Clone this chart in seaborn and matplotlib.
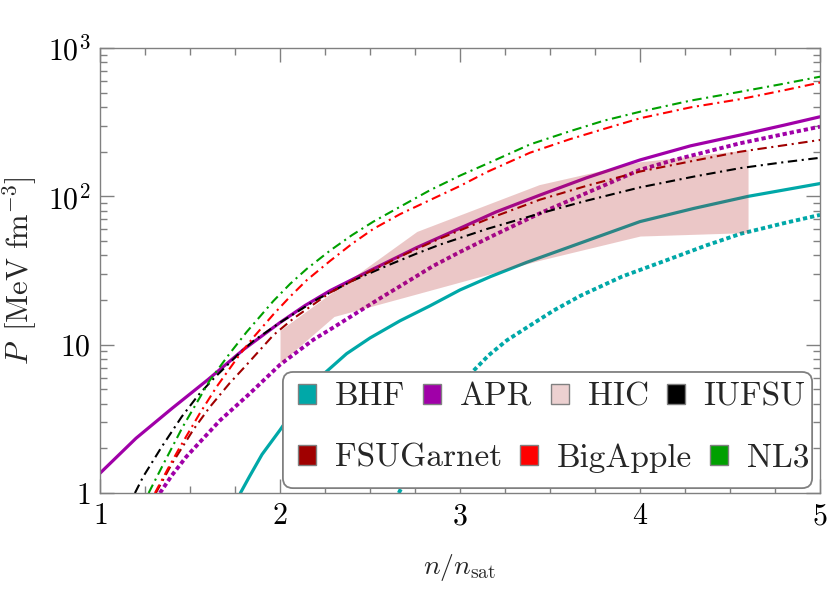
import matplotlib
matplotlib.use('Agg')
import matplotlib.pyplot as plt
import seaborn as sns
from matplotlib.patches import Patch, FancyBboxPatch
from matplotlib.ticker import FixedLocator, MultipleLocator, FuncFormatter, LogLocator, NullFormatter

# curves (n/n_sat, P in MeV fm^-3)
bhf_x = [1.78, 1.83, 1.9, 2.0, 2.1, 2.22, 2.37, 2.5, 2.667, 2.83, 3.0, 3.17, 3.37, 3.7, 4.0, 4.3, 4.6, 5.0]
bhf_y = [1.0, 1.29, 1.82, 2.66, 3.98, 6.0, 8.7, 11.1, 14.5, 18.2, 23.4, 28.8, 35.9, 50, 67.6, 83, 100, 122]

bhf2_x = [2.66, 2.71, 2.78, 2.87, 2.96, 3.06, 3.16, 3.26, 3.39, 3.52, 3.67, 3.9, 4.17, 4.37, 4.56, 4.8, 5.0]
bhf2_y = [1.0, 1.32, 1.9, 2.82, 4.17, 6.4, 8.5, 10.7, 13.5, 17, 21.4, 28.8, 38, 46.8, 56, 66, 75]

apr_x = [1.0, 1.2, 1.4, 1.6, 1.8, 2.0, 2.14, 2.28, 2.5, 2.76, 3.0, 3.2, 3.444, 3.7, 4.0, 4.28, 4.556, 4.8, 5.0]
apr_y = [1.36, 2.34, 3.72, 5.82, 9.33, 14.1, 18.4, 23.2, 31.6, 45.2, 61, 78.5, 102, 133, 176, 219, 259, 302, 344]

apr2_x = [1.333, 1.4, 1.48, 1.667, 1.833, 2.0, 2.185, 2.28, 2.56, 2.667, 2.85, 3.0, 3.2, 3.444, 3.7, 4.0,
          4.19, 4.556, 4.8, 5.0]
apr2_y = [1.0, 1.32, 1.76, 3.09, 4.7, 7.33, 10.8, 12.7, 20.7, 24.8, 33.9, 42.2, 55.6, 76.9, 105, 151,
          176, 228, 263, 295]

hic_x = [2.0, 2.3, 2.76, 3.44, 4.0, 4.6]
hic_lo = [7.5, 15.5, 22, 37, 54, 57]
hic_hi = [12.5, 23, 58, 120, 171, 206]

iufsu_x = [1.194, 1.24, 1.343, 1.454, 1.546, 1.63, 1.78, 1.852, 2.0, 2.2, 2.4, 2.6, 2.76, 2.889, 3.15,
           3.444, 3.7, 4.0, 4.3, 4.556, 4.8, 5.0]
iufsu_y = [1.0, 1.29, 2.05, 3.27, 4.57, 5.89, 8.9, 10.6, 14.1, 20, 26.9, 34.3, 41.2, 47.3, 60.3,
           76.7, 93.3, 115, 136, 155, 170, 182]

fsug_x = [1.31, 1.4, 1.52, 1.61, 1.72, 1.8, 1.963, 2.074, 2.28, 2.5, 2.7, 2.889, 3.15, 3.444, 3.7, 4.0,
          4.3, 4.556, 4.8, 5.0]
fsug_y = [1.0, 1.58, 2.69, 3.8, 5.5, 7.0, 11.6, 15.0, 22.5, 31.2, 41, 52, 70, 95, 117.5, 147,
          174, 200, 221, 240]

bigapple_x = [1.305, 1.38, 1.444, 1.556, 1.65, 1.78, 1.852, 1.963, 2.056, 2.148, 2.278, 2.4, 2.518, 2.667,
              2.833, 3.0, 3.15, 3.389, 3.611, 3.8, 4.0, 4.28, 4.556, 4.8, 5.0]
bigapple_y = [1.0, 1.48, 2.04, 3.47, 5.25, 8.71, 11.2, 16.0, 21.1, 27.2, 36.7, 47.9, 60.3, 75.9,
              94.4, 117.5, 146, 197, 243, 285, 336, 398, 452, 519, 585]

nl3_x = [1.27, 1.35, 1.46, 1.61, 1.72, 1.815, 1.963, 2.056, 2.148, 2.278, 2.4, 2.518, 2.667, 2.833,
         3.0, 3.15, 3.389, 3.611, 3.8, 4.0, 4.28, 4.556, 4.8, 5.0]
nl3_y = [1.0, 1.55, 2.8, 5.75, 8.71, 12.2, 19.7, 25.7, 32.4, 43.1, 54.8, 67.5, 85.1, 110,
         138, 166, 224, 275, 324, 372, 442, 507, 575, 641]

c_bhf = '#00a8a8'
c_apr = '#a000a8'
c_hic = '#b22222'
c_fsug = '#a00000'
c_big = '#ff0000'
c_nl3 = '#00a000'
grey = '#808080'

sns.set_style('ticks')
plt.rcParams['font.family'] = ['cmr10', 'DejaVu Serif']
plt.rcParams['mathtext.fontset'] = 'cm'
plt.rcParams['axes.unicode_minus'] = False
plt.rcParams['axes.formatter.use_mathtext'] = True

fig, ax = plt.subplots(figsize=(8.3, 5.93), dpi=100)
fig.subplots_adjust(left=0.1205, right=0.988, top=0.919, bottom=0.1686)

dotted = (0, (1.1, 0.75))
dashdot = (0, (4.5, 2.2, 1, 2.2))

sns.lineplot(x=bhf_x, y=bhf_y, ax=ax, color=c_bhf, lw=2.3)
sns.lineplot(x=bhf2_x, y=bhf2_y, ax=ax, color=c_bhf, lw=2.8, linestyle=dotted)
sns.lineplot(x=apr_x, y=apr_y, ax=ax, color=c_apr, lw=2.3)
sns.lineplot(x=apr2_x, y=apr2_y, ax=ax, color=c_apr, lw=2.8, linestyle=dotted)

ax.fill_between(hic_x, hic_lo, hic_hi, color=c_hic, alpha=0.25, lw=0, zorder=3)

sns.lineplot(x=iufsu_x, y=iufsu_y, ax=ax, color='black', lw=1.5, linestyle=dashdot, zorder=4)
sns.lineplot(x=fsug_x, y=fsug_y, ax=ax, color=c_fsug, lw=1.5, linestyle=dashdot, zorder=4)
sns.lineplot(x=bigapple_x, y=bigapple_y, ax=ax, color=c_big, lw=1.5, linestyle=dashdot, zorder=4)
sns.lineplot(x=nl3_x, y=nl3_y, ax=ax, color=c_nl3, lw=1.5, linestyle=dashdot, zorder=4)

ax.set_yscale('log')
ax.set_xlim(1, 5)
ax.set_ylim(1, 1000)

ax.xaxis.set_major_locator(MultipleLocator(1))
ax.xaxis.set_minor_locator(MultipleLocator(0.25))
ax.xaxis.set_major_formatter(FuncFormatter(lambda v, p: r'$%d$' % round(v)))
ax.yaxis.set_major_locator(FixedLocator([1, 10, 100, 1000]))
ax.yaxis.set_minor_locator(LogLocator(base=10, subs=range(2, 10)))
ax.yaxis.set_minor_formatter(NullFormatter())
ylabs = {1: r'$1$', 10: r'$10$', 100: r'$10^2$', 1000: r'$10^3$'}
ax.yaxis.set_major_formatter(FuncFormatter(lambda v, p: ylabs.get(int(round(v)), '')))

for s in ax.spines.values():
    s.set_color(grey)
    s.set_linewidth(1.0)
ax.tick_params(which='both', direction='in', top=True, right=True, color=grey, width=1.0,
               labelsize=21.5, labelcolor='black')
ax.tick_params(which='major', length=10, pad=7)
ax.tick_params(which='minor', length=5)

ax.set_xlabel(r'$n/n_{\mathrm{sat}}$', fontsize=20, labelpad=16)
ax.set_ylabel(r'$P\;\;[\mathrm{MeV\ fm}^{-3}]$', fontsize=22, labelpad=6)

# legend: rounded frame with two independent rows
frame = FancyBboxPatch((0.254, 0.011), 0.735, 0.261, transform=ax.transAxes,
                       boxstyle='round,pad=0,rounding_size=0.014', mutation_aspect=720 / 445,
                       facecolor='white', edgecolor=grey, lw=1.3, zorder=9, clip_on=False)
ax.add_patch(frame)

row1 = [
    Patch(facecolor=c_bhf, edgecolor=grey, label='BHF'),
    Patch(facecolor=c_apr, edgecolor=grey, label='APR'),
    Patch(facecolor='#ecd0d0', edgecolor=grey, label='HIC'),
    Patch(facecolor='black', edgecolor=grey, label='IUFSU'),
]
row2 = [
    Patch(facecolor=c_fsug, edgecolor=grey, label='FSUGarnet'),
    Patch(facecolor=c_big, edgecolor=grey, label='BigApple'),
    Patch(facecolor=c_nl3, edgecolor=grey, label='NL3'),
]
leg_kw = dict(loc='center left', borderaxespad=0, borderpad=0, fontsize=24, handlelength=0.54,
              handleheight=0.54, handletextpad=0.57, columnspacing=0.54, frameon=False)
leg1 = ax.legend(handles=row1, ncol=4, bbox_to_anchor=(0.275, 0.216), **leg_kw)
leg1.set_zorder(10)
ax.add_artist(leg1)
leg2 = ax.legend(handles=row2, ncol=3, bbox_to_anchor=(0.275, 0.079), **leg_kw)
leg2.set_zorder(10)

fig.savefig('out.png', dpi=100)
